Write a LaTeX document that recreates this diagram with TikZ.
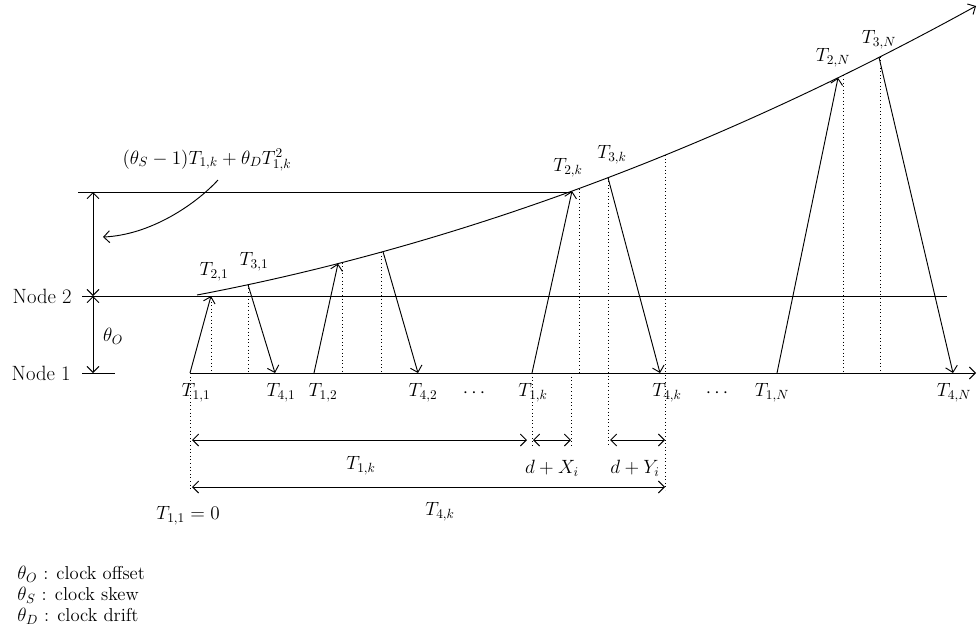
\documentclass[tikz,border=0pt]{standalone}
\usetikzlibrary{arrows.meta}

\tikzset{
  clkline/.style={line width=0.7pt},
  sig/.style={line width=0.7pt, -{Straight Barb[length=4.5pt,width=9pt]}},
  span/.style={line width=0.7pt,
    {Straight Barb[length=4.5pt,width=9pt]}-{Straight Barb[length=4.5pt,width=9pt]}},
  proj/.style={line width=0.7pt, dotted},
  lbl/.style={inner sep=0pt},
  nodelbl/.style={inner sep=0pt, anchor=east, font=\fontsize{15.5}{18}\selectfont},
}

\begin{document}
\begin{tikzpicture}[x=0.75pt,y=-0.75pt,
  font=\fontsize{14}{17}\selectfont,
  declare function={clk(\t)=295-0.19*(\t-197)-2.323*((\t-197)/100)^2;}]
\useasboundingbox (0,0) rectangle (980,636);

% -------------------------------------------------
% Clock lines
% -------------------------------------------------
\coordinate (n1a) at (82,373);
\coordinate (n1b) at (115,373);
\coordinate (n2a) at (82,296);
\coordinate (n2b) at (947,296);
\coordinate (t0) at (190,373);
\coordinate (tend) at (976,373);
\draw[clkline] (n1a) -- (n1b);
\draw[clkline] (n2a) -- (n2b);
\draw[sig] (t0) -- (tend);                                % node 1 time
\draw[sig] plot[domain=197:976, samples=80] (\x,{clk(\x)}); % node 2 clock

\node[nodelbl] (nd2) at (72,296) {Node 2};
\node[nodelbl] (nd1) at (71,373) {Node 1};

% -------------------------------------------------
% Offset and skew/drift
% -------------------------------------------------
\coordinate (vtop) at (93,192);
\coordinate (vmid) at (93,296);
\coordinate (vbot) at (93,373);
\coordinate (htop) at (78,192);
\coordinate (hend) at (572,192);
\draw[clkline] (htop) -- (hend);
\draw[span] (vtop) -- (vmid);
\draw[span] (vmid) -- (vbot);
\node (off) at (113,336) {$\theta_O$};

\node (form) at (207,160) {$(\theta_S-1)T_{1,k}+\theta_D T_{1,k}^2$};
\coordinate (fa) at (218,180);
\coordinate (fb) at (103,237);
\draw[sig] (fa) .. controls (195,205) and (150,235) .. (fb);

% -------------------------------------------------
% Message exchanges
% -------------------------------------------------
\coordinate (s1) at (190,373);
\coordinate (r1) at (211,296);
\coordinate (q1) at (248,{clk(248)});
\coordinate (e1) at (275,373);
\draw[sig] (s1) -- (r1);
\draw[sig] (q1) -- (e1);

\foreach \a/\b/\c/\d/\n in {314/338/383/418/2, 532/572/608/660/k, 777/838/879/953/N}{
  \coordinate (s\n) at (\a,373);
  \coordinate (r\n) at (\b,{clk(\b)});
  \coordinate (q\n) at (\c,{clk(\c)});
  \coordinate (e\n) at (\d,373);
  \draw[sig] (s\n) -- (r\n);
  \draw[sig] (q\n) -- (e\n);
}

% -------------------------------------------------
% Dotted projections
% -------------------------------------------------
\draw[proj] (211,298) -- (211,373);
\foreach \x/\yb in {248/373, 342/373, 381/373, 579/373, 608/447, 665/490, 843/373, 880/373}
  \draw[proj] (\x,{clk(\x)}) -- (\x,\yb);
\foreach \x/\yb in {190/490, 532/447, 571/447}
  \draw[proj] (\x,373) -- (\x,\yb);

% -------------------------------------------------
% Intervals
% -------------------------------------------------
\draw[span] (192,440) -- (527,440);
\draw[span] (533,440) -- (571,440);
\draw[span] (610,440) -- (665,440);
\draw[span] (192,487) -- (665,487);
\node (i1k) at (361,466) {$T_{1,k}$};
\node (idx) at (552,468) {$d+X_i$};
\node (idy) at (635,468) {$d+Y_i$};
\node (i0) at (188,516) {$T_{1,1}=0$};
\node (i4k) at (440,512) {$T_{4,k}$};

% -------------------------------------------------
% Time stamps
% -------------------------------------------------
\foreach \x/\s [count=\i] in {196/{T_{1,1}}, 281/{T_{4,1}}, 323/{T_{1,2}}, 423/{T_{4,2}},
    474/{\cdots}, 533/{T_{1,k}}, 667/{T_{4,k}}, 717/{\cdots}, 772/{T_{1,N}}, 954/{T_{4,N}}}
  \node (lb\i) at (\x,393) {$\s$};
\node (l21) at (214,272) {$T_{2,1}$};
\node (l31) at (254,262) {$T_{3,1}$};
\node (l2k) at (568,168) {$T_{2,k}$};
\node (l3k) at (612,155) {$T_{3,k}$};
\node (l2N) at (833,58) {$T_{2,N}$};
\node (l3N) at (879,40) {$T_{3,N}$};

% -------------------------------------------------
% Legend
% -------------------------------------------------
\node[lbl, anchor=west] (lgo) at (17,574) {$\theta_O$ : clock offset};
\node[lbl, anchor=west] (lgs) at (17,595) {$\theta_S$ : clock skew};
\node[lbl, anchor=west] (lgd) at (17,616) {$\theta_D$ : clock drift};

\end{tikzpicture}
\end{document}
